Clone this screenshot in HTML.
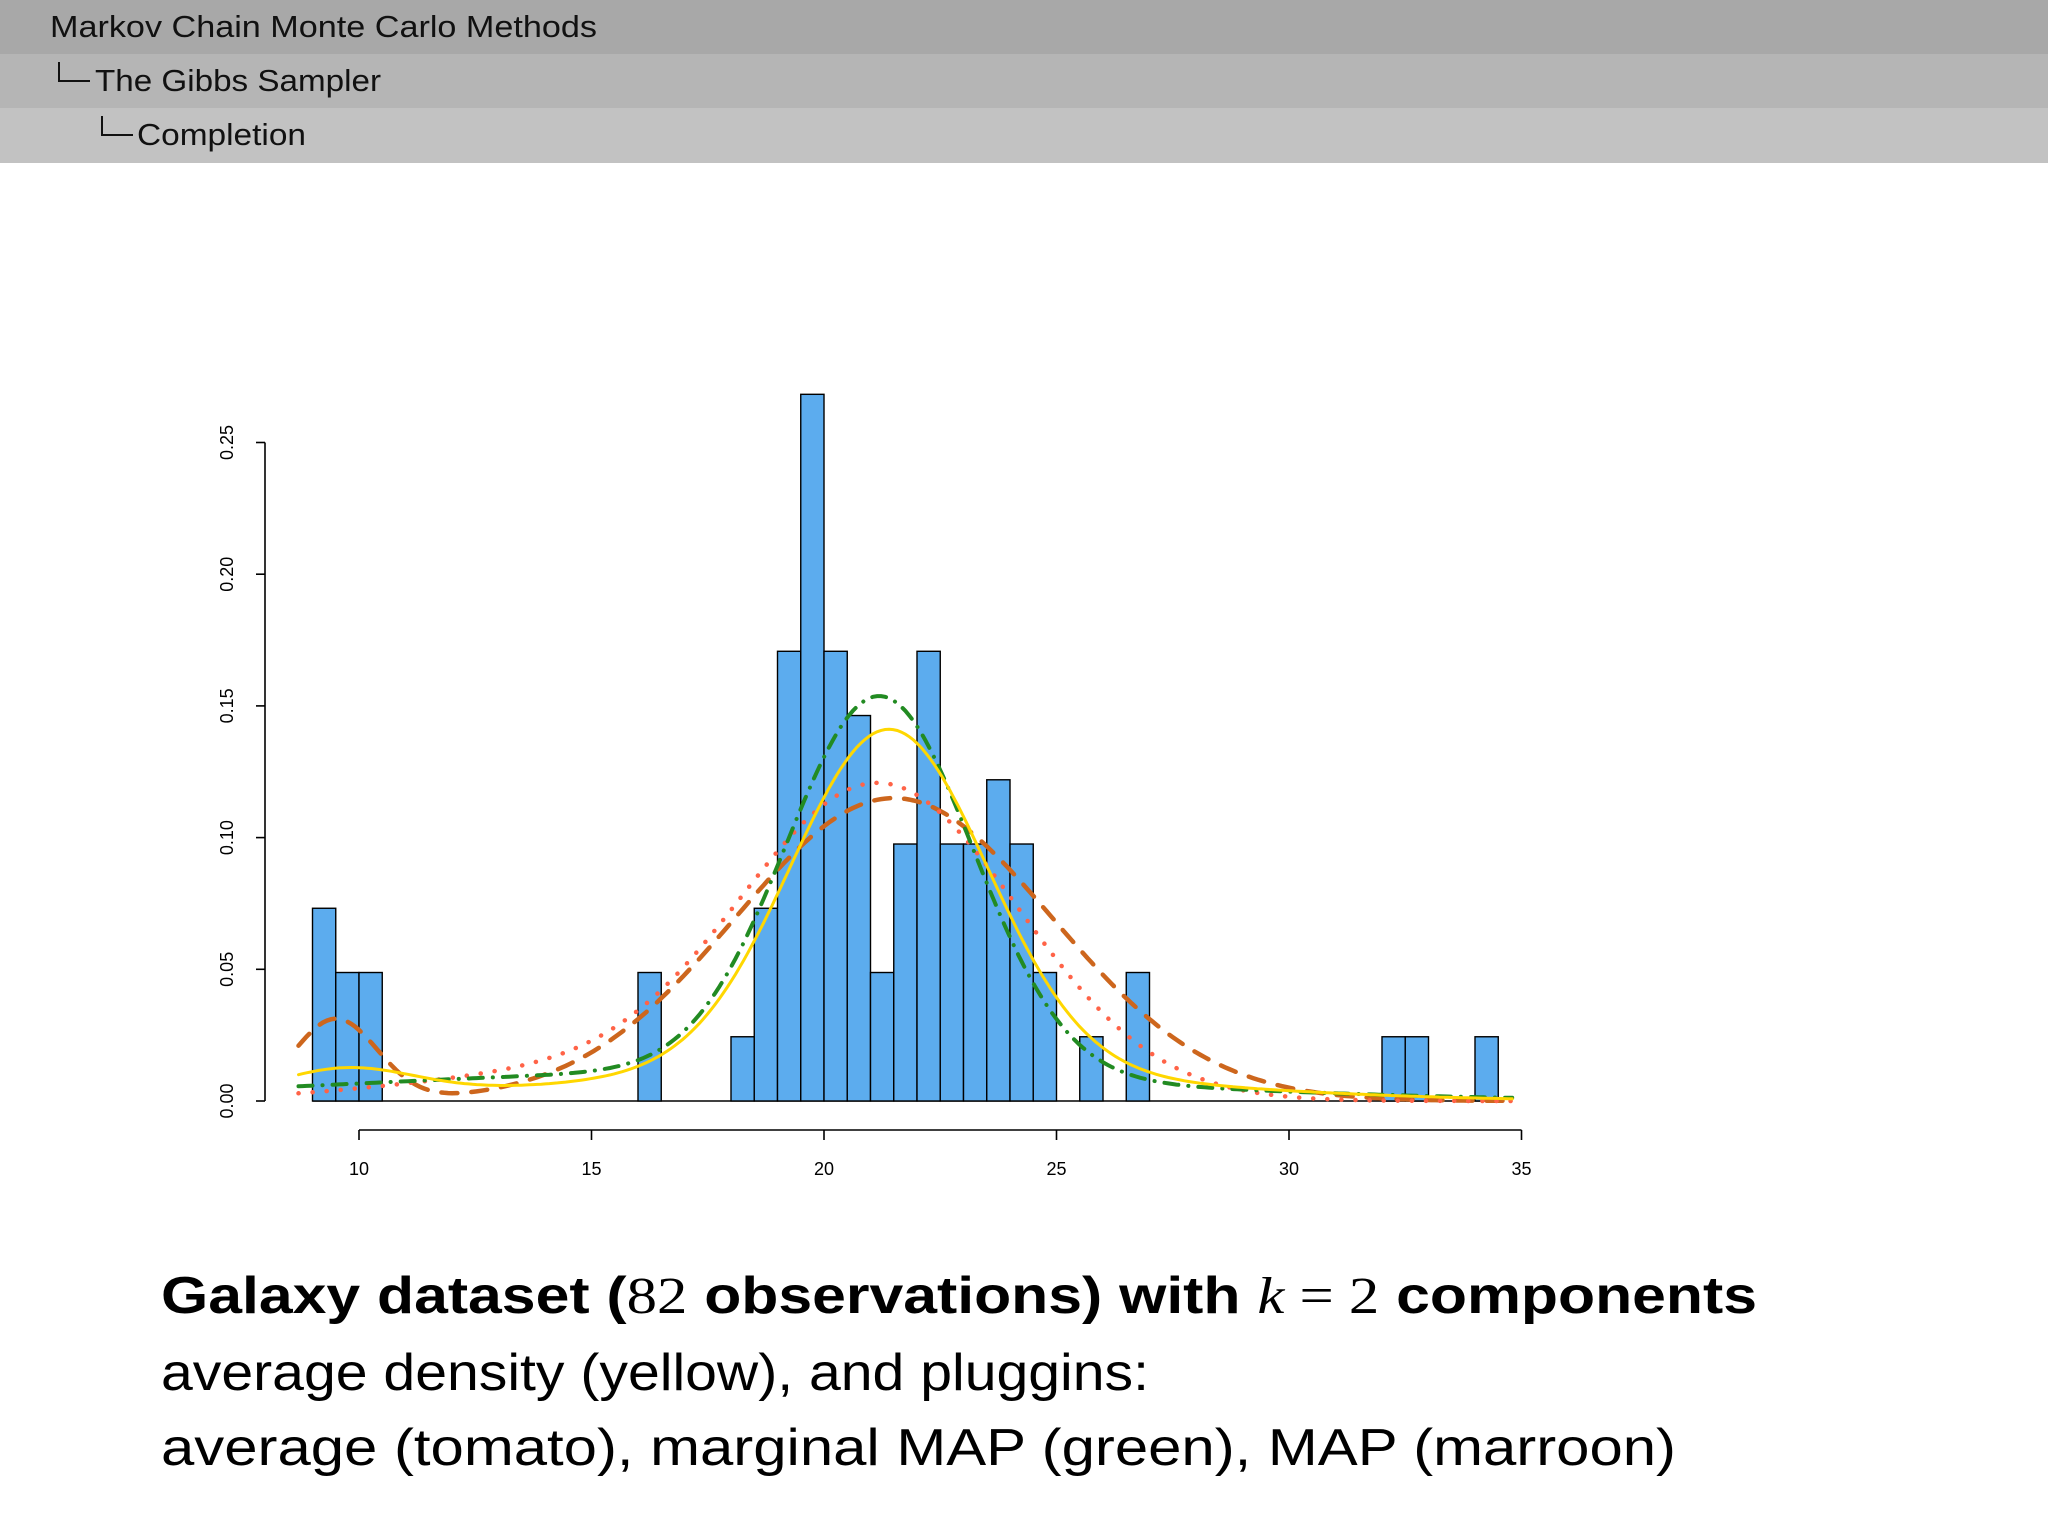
<!DOCTYPE html>
<html><head><meta charset="utf-8"><style>
html,body{margin:0;padding:0;background:#fff;}
svg{display:block;}
</style></head><body>
<svg id="page" width="2048" height="1536" viewBox="0 0 2048 1536" xmlns="http://www.w3.org/2000/svg" font-family="Liberation Sans, sans-serif">
<g>
<rect x="0" y="0" width="2048" height="54" fill="#a8a8a8"/>
<rect x="0" y="54" width="2048" height="54" fill="#b5b5b5"/>
<rect x="0" y="108" width="2048" height="55" fill="#c2c2c2"/>
<text x="50" y="37" font-size="31" fill="#111" textLength="547" lengthAdjust="spacingAndGlyphs">Markov Chain Monte Carlo Methods</text>
<path d="M59 62 V81 H90" stroke="#111" stroke-width="2" fill="none"/>
<text x="95" y="91" font-size="31" fill="#111" textLength="286" lengthAdjust="spacingAndGlyphs">The Gibbs Sampler</text>
<path d="M102 116 V135 H133" stroke="#111" stroke-width="2" fill="none"/>
<text x="137" y="145" font-size="31" fill="#111" textLength="169" lengthAdjust="spacingAndGlyphs">Completion</text>
</g>
<g id="chart"></g>
<g>
<text x="161" y="1313" font-size="52" font-weight="bold" fill="#000" textLength="1596" lengthAdjust="spacingAndGlyphs">Galaxy dataset (<tspan font-family="Liberation Serif, serif" font-weight="normal">82</tspan> observations) with <tspan font-family="Liberation Serif, serif" font-style="italic" font-weight="normal">k</tspan><tspan font-family="Liberation Serif, serif" font-weight="normal"> = 2</tspan> components</text>
<text x="161" y="1390" font-size="52" fill="#000" textLength="988" lengthAdjust="spacingAndGlyphs">average density (yellow), and pluggins:</text>
<text x="161" y="1465" font-size="52" fill="#000" textLength="1515" lengthAdjust="spacingAndGlyphs">average (tomato), marginal MAP (green), MAP (marroon)</text>
</g>
</svg>
<script>
// histogram data: bin left edges (width 0.5) and counts, n = 82
const binStarts = [9,9.5,10,16,18,18.5,19,19.5,20,20.5,21,21.5,22,22.5,23,23.5,24,24.5,25.5,26.5,32,32.5,34];
const binCounts = [3,2,2,2,1,3,7,11,7,6,2,4,7,4,4,5,4,2,1,2,1,1,1];
const nObs = 82;
const binWidth = 0.5;
const xTicks = [10,15,20,25,30,35];
const yTicks = [0,0.05,0.10,0.15,0.20,0.25];
const yTickLabels = ["0.00","0.05","0.10","0.15","0.20","0.25"];
// mixture components: weights, means, sds
const yellowW = [0.68,0.18,0.04], yellowMu = [21.4,21,9.7], yellowSd = [2.1,6,1.5];
const tomatoW = [0.9,0.08], tomatoMu = [21.2,14], tomatoSd = [3,3.5];
const greenW = [0.72,0.22], greenMu = [21.2,18], greenSd = [2.0,8];
const maroonW = [0.98,0.07], maroonMu = [21.5,9.5], maroonSd = [3.4,0.9];
const curveRange = [8.7,34.8];

const NS="http://www.w3.org/2000/svg";
const g=document.getElementById('chart');
const X=v=>359+(v-10)*46.5;
const Y=v=>1101-v*2634;
function mk(t,a){const e=document.createElementNS(NS,t);for(const k in a)e.setAttribute(k,a[k]);g.appendChild(e);return e;}
let bl=mk('line',{x1:X(binStarts[0]),x2:X(binStarts[binStarts.length-1]+binWidth),y1:Y(0),y2:Y(0),stroke:'#000','stroke-width':1.6});


binStarts.forEach((s,i)=>{
  const d=binCounts[i]/(nObs*binWidth);
  const r=mk('rect',{x:X(s),y:Y(d),width:X(s+binWidth)-X(s),height:Y(0)-Y(d),fill:'#5CACEE',stroke:'#000','stroke-width':1.4});
  
  
});
function dens(x,w,mu,sd){let s=0;for(let i=0;i<w.length;i++){const z=(x-mu[i])/sd[i];s+=w[i]/(sd[i]*Math.sqrt(2*Math.PI))*Math.exp(-0.5*z*z);}return s;}
function curve(w,mu,sd,color,width,dash,name){
  let p='';for(let k=0;k<=300;k++){const x=curveRange[0]+(curveRange[1]-curveRange[0])*k/300;p+=(k?'L':'M')+X(x).toFixed(1)+' '+Y(dens(x,w,mu,sd)).toFixed(1);}
  const a={d:p,fill:'none',stroke:color,'stroke-width':width,'stroke-linecap':'round'};if(dash)a['stroke-dasharray']=dash;
  const e=mk('path',a);
  
  
}
curve(maroonW,maroonMu,maroonSd,'#CD661D',4.5,'16 14','map-curve');
curve(tomatoW,tomatoMu,tomatoSd,'#FF6347',4.5,'0.1 14','average-plugin-curve');
curve(greenW,greenMu,greenSd,'#228B22',4,'14 10 0.1 10','marginal-map-curve');
curve(yellowW,yellowMu,yellowSd,'#FFD700',3,null,'average-density-curve');
let ya=mk('line',{x1:265,x2:265,y1:Y(0),y2:Y(0.25),stroke:'#000','stroke-width':1.6});


yTicks.forEach((v,i)=>{
  const t=mk('line',{x1:256,x2:265,y1:Y(v),y2:Y(v),stroke:'#000','stroke-width':1.6});
  
  
  const l=mk('text',{x:233,y:Y(v),'font-size':18,'text-anchor':'middle',transform:'rotate(-90 233 '+Y(v)+')',fill:'#000'});
  l.textContent=yTickLabels[i];
  
  
});
let xa=mk('line',{x1:X(10),x2:X(35),y1:1130,y2:1130,stroke:'#000','stroke-width':1.6});


xTicks.forEach(v=>{
  const t=mk('line',{x1:X(v),x2:X(v),y1:1130,y2:1140,stroke:'#000','stroke-width':1.6});
  
  
  const l=mk('text',{x:X(v),y:1175,'font-size':18,'text-anchor':'middle',fill:'#000'});
  l.textContent=String(v);
  
  
});
</script>
</body></html>
